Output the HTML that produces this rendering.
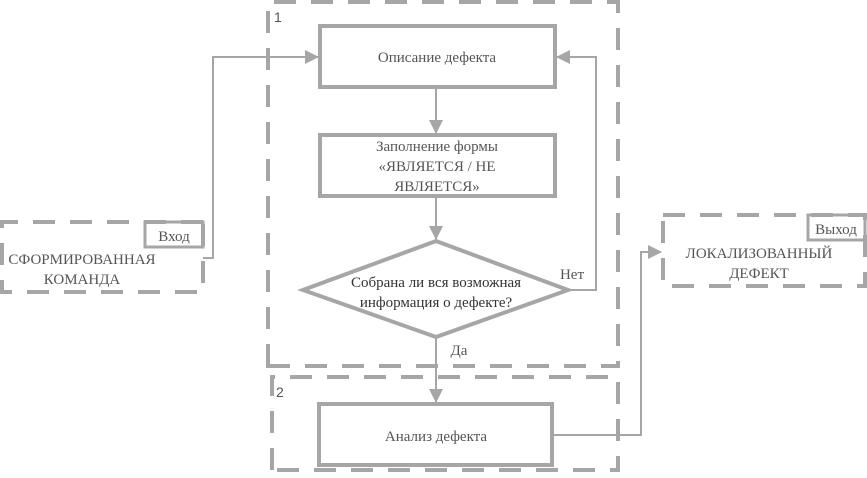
<!DOCTYPE html>
<html><head><meta charset="utf-8"><style>body{margin:0;background:#fff}svg{display:block}text{font-family:"Liberation Serif",serif;fill:#555}</style></head><body>
<svg width="867" height="478" viewBox="0 0 867 478" xmlns="http://www.w3.org/2000/svg">
<defs><marker id="a" markerWidth="10" markerHeight="10" refX="9" refY="5" orient="auto" markerUnits="userSpaceOnUse"><path d="M0,0 L10,5 L0,10 z" fill="#a6a6a6"/></marker>
<marker id="b" markerWidth="14" markerHeight="14" refX="13" refY="7" orient="auto" markerUnits="userSpaceOnUse"><path d="M0,0 L14,7 L0,14 z" fill="#a6a6a6"/></marker></defs>
<g fill="none" stroke="#a6a6a6" stroke-width="4" stroke-dasharray="22,15">
<path d="M268,366 V2 H618 V366 Z"/>
<path d="M272,470 V377 H618 V470 Z"/>
<path d="M203,222 H2 V292 H203 Z"/>
<path d="M663,215 H865 V286 H663 Z"/>
</g>
<g fill="none" stroke="#a6a6a6" stroke-width="3">
<rect x="145" y="222" width="58" height="25"/>
<rect x="808" y="215" width="57" height="25"/>
<rect x="320" y="26" width="235" height="61" stroke-width="4"/>
<rect x="320" y="135" width="235" height="61" stroke-width="4"/>
<rect x="319" y="404" width="233" height="61" stroke-width="4"/>
<path d="M436,241 L568,290 L436,337 L303,290 Z" stroke-width="4"/>
</g>
<g fill="none" stroke="#a6a6a6" stroke-width="2">
<path d="M203,258 H213 V57 H318" marker-end="url(#b)"/>
<path d="M568,290 H596 V57 H557" marker-end="url(#b)"/>
<path d="M552,435 H641 V252 H661" marker-end="url(#b)"/>
<path d="M436,87 V133" marker-end="url(#b)"/>
<path d="M436,196 V239" marker-end="url(#b)"/>
<path d="M436,337 V402" marker-end="url(#b)"/>
</g>
<g font-size="15" text-anchor="middle">
<text x="437" y="62">Описание дефекта</text>
<text x="437" y="151">Заполнение формы</text>
<text x="437" y="171">«ЯВЛЯЕТСЯ / НЕ</text>
<text x="437" y="191">ЯВЛЯЕТСЯ»</text>
<text x="436" y="287" fill="#333" style="fill:#333">Собрана ли вся возможная</text>
<text x="436" y="307" style="fill:#333">информация о дефекте?</text>
<text x="436" y="441">Анализ дефекта</text>
<text x="82" y="264">СФОРМИРОВАННАЯ</text>
<text x="82" y="284">КОМАНДА</text>
<text x="759" y="258">ЛОКАЛИЗОВАННЫЙ</text>
<text x="759" y="278">ДЕФЕКТ</text>
<text x="174" y="241">Вход</text>
<text x="836" y="234">Выход</text>
<text x="572" y="279">Нет</text>
<text x="459" y="355">Да</text>
</g>
<text x="274" y="22" font-size="14" style="font-family:'Liberation Sans',sans-serif">1</text>
<text x="276" y="397" font-size="14" style="font-family:'Liberation Sans',sans-serif">2</text>
</svg>
</body></html>
